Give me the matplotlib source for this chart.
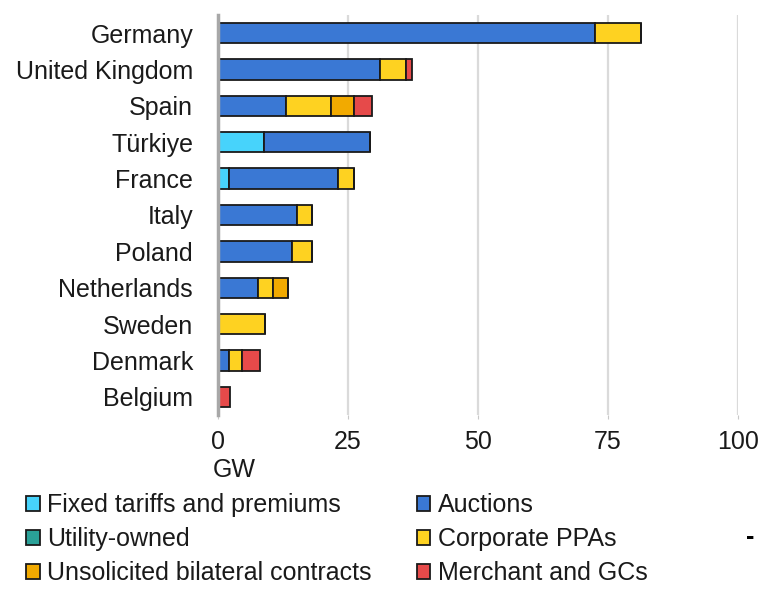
import numpy as np
import matplotlib
matplotlib.use("Agg")
import matplotlib.pyplot as plt
from matplotlib.patches import Patch

plt.rcParams['font.family'] = ['Liberation Sans', 'DejaVu Sans']

# data (GW)
countries = ['Germany', 'United Kingdom', 'Spain', 'Türkiye', 'France', 'Italy',
             'Poland', 'Netherlands', 'Sweden', 'Denmark', 'Belgium']
fixed_tariffs = [0, 0, 0, 8.8, 2.2, 0, 0, 0, 0, 0, 0]
auctions = [72.5, 31.2, 13.0, 20.4, 20.8, 15.1, 14.3, 7.6, 0, 2.1, 0]
utility_owned = [0, 0, 0, 0, 0, 0, 0, 0, 0, 0, 0]
corporate_ppas = [8.8, 5.0, 8.7, 0, 3.2, 3.0, 3.8, 2.9, 9.0, 2.6, 0]
unsolicited = [0, 0, 4.4, 0, 0, 0, 0, 3.0, 0, 0, 0]
merchant = [0, 1.2, 3.5, 0, 0, 0, 0, 0, 0, 3.4, 2.3]

series = [
    ('Fixed tariffs and premiums', fixed_tariffs, '#47d3fb'),
    ('Auctions', auctions, '#3a78d4'),
    ('Utility-owned', utility_owned, '#2aa198'),
    ('Corporate PPAs', corporate_ppas, '#fed221'),
    ('Unsolicited bilateral contracts', unsolicited, '#f2aa00'),
    ('Merchant and GCs', merchant, '#e64a4a'),
]
xticks = [0, 25, 50, 75, 100]

fig = plt.figure(figsize=(7.58, 5.90), dpi=100)
ax = fig.add_axes([0.2876, 0.2966, 0.6860, 0.6780])

ypos = np.arange(len(countries))
left = np.zeros(len(countries))
for name, vals, col in series:
    vals = np.array(vals)
    ax.barh(ypos, vals, left=left, height=0.56, color=col,
            edgecolor='#1a1a1a', linewidth=1.3, zorder=3)
    left += vals

ax.set_ylim(len(countries) - 0.5, -0.5)
ax.set_xlim(0, 100)
ax.set_yticks(ypos)
ax.set_yticklabels(countries)
ax.set_xticks(xticks)
ax.tick_params(axis='y', length=0, pad=18, labelsize=18, labelcolor='#1a1a1a')
ax.tick_params(axis='x', length=3, color='#c8c8c8', pad=8, labelsize=18,
               labelcolor='#1a1a1a')
ax.xaxis.grid(True, color='#dadada', linewidth=1.6, zorder=0)
ax.set_axisbelow(True)
for s in ['top', 'right', 'bottom']:
    ax.spines[s].set_visible(False)
ax.spines['left'].set_color('#a8a8a8')
ax.spines['left'].set_linewidth(2.5)
ax.spines['left'].set_zorder(4)

ax.set_xlabel('GW', loc='left', fontsize=18, color='#1a1a1a', labelpad=3)
ax.xaxis.label.set_position((-0.01, 0))

# legend: column-major order
order = [0, 2, 4, 1, 3, 5]
handles = [Patch(facecolor=series[i][2], edgecolor='#1a1a1a', linewidth=1.3,
                 label=series[i][0]) for i in order]
fig.legend(handles=handles, loc='upper left', bbox_to_anchor=(0.034, 0.164),
           ncol=2, frameon=False, fontsize=18, handlelength=0.55, handleheight=0.55,
           handletextpad=0.3, columnspacing=1.8, labelspacing=0.4,
           borderpad=0, borderaxespad=0, labelcolor='#1a1a1a')

fig.text(0.99, 0.09, '-', fontsize=18, fontweight='bold', ha='center', va='center')

fig.savefig('out.png', dpi=100)
